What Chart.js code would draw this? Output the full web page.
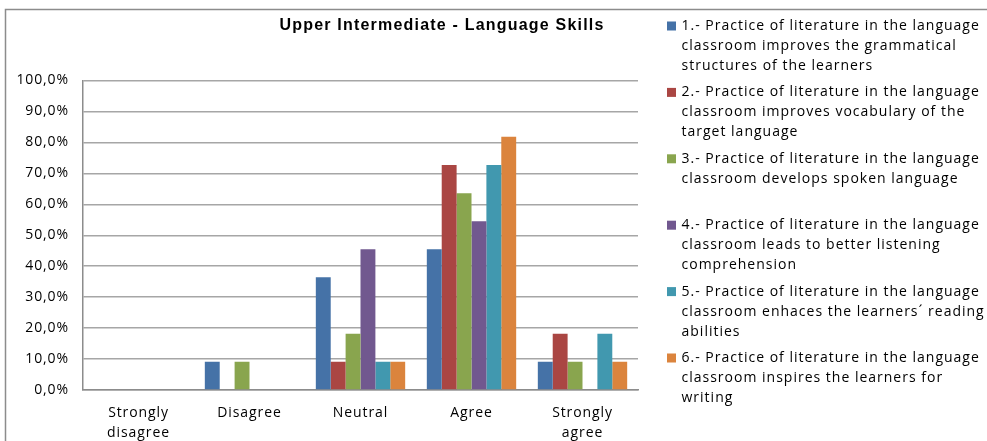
<!DOCTYPE html>
<html><head><meta charset="utf-8">
<script src="https://cdn.jsdelivr.net/npm/chart.js@4"></script>
<style>html,body{margin:0;padding:0;background:#fff;}#wrap{width:987px;height:441px;}</style>
</head><body><div id="wrap"><canvas id="c" width="987" height="441"></canvas></div>
<script>
const chartTitle = "Upper Intermediate - Language Skills";
const categories = [["Strongly","disagree"], "Disagree", "Neutral", "Agree", ["Strongly","agree"]];
const seriesLabels = [
  ["1.- Practice of literature in the language", "classroom improves the grammatical", "structures of the learners"],
  ["2.- Practice of literature in the language", "classroom improves vocabulary of the", "target language"],
  ["3.- Practice of literature in the language", "classroom develops spoken language"],
  ["4.- Practice of literature in the language", "classroom leads to better listening", "comprehension"],
  ["5.- Practice of literature in the language", "classroom enhaces the learners\u00b4 reading", "abilities"],
  ["6.- Practice of literature in the language", "classroom inspires the learners for", "writing"]
];
const s1 = [0, 9.1, 36.4, 45.5, 9.1];
const s2 = [0, 0, 9.1, 72.7, 18.2];
const s3 = [0, 9.1, 18.2, 63.6, 9.1];
const s4 = [0, 0, 45.5, 54.5, 0];
const s5 = [0, 0, 9.1, 72.7, 18.2];
const s6 = [0, 0, 9.1, 81.8, 9.1];
const colors = ["#4572A7", "#AA4643", "#89A54E", "#71588F", "#4198AF", "#DB843D"];
const seriesValues = [s1, s2, s3, s4, s5, s6];

const FONT = "'Open Sans', sans-serif";

const decor = {
  id: 'decor',
  beforeDraw(chart) {
    const ctx = chart.ctx;
    ctx.fillStyle = '#fff';
    ctx.fillRect(0, 0, chart.width, chart.height);
    ctx.save();
    ctx.strokeStyle = '#8c8c8c';
    ctx.lineWidth = 1.5;
    ctx.beginPath();
    ctx.moveTo(5.5, 460);
    ctx.lineTo(5.5, 9.5);
    ctx.lineTo(1000, 9.5);
    ctx.stroke();
    ctx.restore();
    ctx.letterSpacing = '0.9px';
  },
  afterDraw(chart) {
    const ctx = chart.ctx;
    ctx.save();
    // title
    ctx.fillStyle = '#000';
    ctx.letterSpacing = '1.2px';
    ctx.font = "bold 16px 'Liberation Sans', Arial, sans-serif";
    ctx.textAlign = 'center';
    ctx.textBaseline = 'middle';
    ctx.fillText(chartTitle, 442, 26);
    // legend
    ctx.letterSpacing = '1px';
    ctx.font = "14px " + FONT;
    ctx.textAlign = 'left';
    chart.data.datasets.forEach((ds, i) => {
      const y0 = 26 + i * 66.4;
      ctx.fillStyle = ds.backgroundColor;
      ctx.fillRect(667, y0 - 4.5, 9, 9);
      ctx.fillStyle = '#000';
      ds.label.forEach((line, j) => {
        ctx.fillText(line, 681.5, y0 + j * 20);
      });
    });
    ctx.restore();
    ctx.letterSpacing = '0px';
  }
};

new Chart(document.getElementById('c'), {
  type: 'bar',
  data: {
    labels: categories,
    datasets: seriesValues.map((v, i) => ({
      label: seriesLabels[i],
      data: v,
      backgroundColor: colors[i],
      borderWidth: 0,
      categoryPercentage: 0.805,
      barPercentage: 1.0
    }))
  },
  options: {
    responsive: false,
    animation: false,
    devicePixelRatio: 1,
    layout: { padding: { top: 80.5, right: 349, left: 0, bottom: 0 } },
    plugins: { legend: { display: false }, title: { display: false }, tooltip: { enabled: false } },
    scales: {
      x: {
        grid: { display: false, drawTicks: false },
        border: { display: true, color: '#8c8c8c', width: 1.5 },
        ticks: { color: '#000', font: { family: FONT, size: 14, lineHeight: 1.43 }, padding: 13, maxRotation: 0, autoSkip: false },
        afterFit(scale) { scale.height = 51; }
      },
      y: {
        min: 0, max: 100,
        grid: { color: '#a6a6a6', lineWidth: 1.5, drawTicks: false },
        border: { display: true, color: '#8c8c8c', width: 1.5 },
        ticks: {
          stepSize: 10,
          color: '#000',
          font: { family: FONT, size: 14 },
          padding: 14,
          callback: (v) => v.toFixed(1).replace('.', ',') + '%'
        },
        afterFit(scale) { scale.width = 83; }
      }
    }
  },
  plugins: [decor]
});
</script>
</body></html>
